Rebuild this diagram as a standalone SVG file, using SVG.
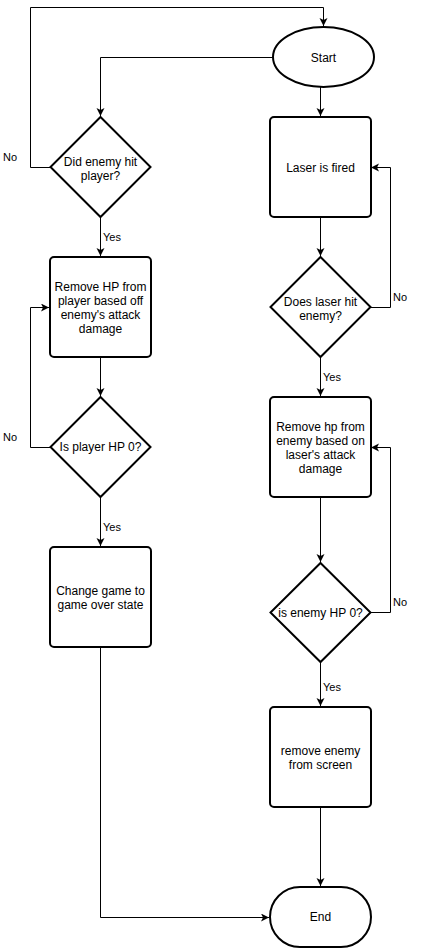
<svg xmlns="http://www.w3.org/2000/svg" width="421" height="949" viewBox="0 0 421 949">
<style>
.n{fill:#fff;stroke:#000;stroke-width:2}
.c{fill:none;stroke:#000;stroke-width:1}
.t{font-family:"Liberation Sans",Arial,sans-serif;font-size:12px;fill:#000;text-anchor:middle}
.l{font-family:"Liberation Sans",Arial,sans-serif;font-size:11px;fill:#000}
</style>
<defs>
<marker id="a" markerUnits="userSpaceOnUse" markerWidth="10" markerHeight="10" refX="8" refY="4" orient="auto">
<path d="M0,0 L8,4 L0,8 L2,4 z" fill="#000"/>
</marker>
</defs>
<rect width="421" height="949" fill="#fff"/>
<g id="connectors">
<path class="c" d="M273,57.5 H100.5 V116" marker-end="url(#a)"/>
<path class="c" d="M320.5,87 V116" marker-end="url(#a)"/>
<path class="c" d="M50,167.5 H30.5 V7.5 H323.5 V26" marker-end="url(#a)"/>
<path class="c" d="M100.5,217 V256" marker-end="url(#a)"/>
<path class="c" d="M100.5,357 V396" marker-end="url(#a)"/>
<path class="c" d="M50,447.5 H30.5 V307.5 H49" marker-end="url(#a)"/>
<path class="c" d="M100.5,497 V546" marker-end="url(#a)"/>
<path class="c" d="M100.5,647 V917.5 H269" marker-end="url(#a)"/>
<path class="c" d="M320.5,217 V256" marker-end="url(#a)"/>
<path class="c" d="M370,307.5 H390.5 V167.5 H371" marker-end="url(#a)"/>
<path class="c" d="M320.5,357 V396" marker-end="url(#a)"/>
<path class="c" d="M320.5,497 V562" marker-end="url(#a)"/>
<path class="c" d="M370,612.5 H390.5 V447.5 H371" marker-end="url(#a)"/>
<path class="c" d="M320.5,662 V706" marker-end="url(#a)"/>
<path class="c" d="M320.5,807 V886" marker-end="url(#a)"/>
<text class="l" x="3" y="161">No</text>
<text class="l" x="103" y="241">Yes</text>
<text class="l" x="3" y="441">No</text>
<text class="l" x="103" y="531">Yes</text>
<text class="l" x="393" y="301">No</text>
<text class="l" x="323" y="381">Yes</text>
<text class="l" x="393" y="606">No</text>
<text class="l" x="323" y="691">Yes</text>
</g>
<g id="start">
<ellipse class="n" cx="323.5" cy="57" rx="50.5" ry="30"/>
<text class="t" x="323.5" y="62">Start</text>
</g>
<g id="enemyHit">
<path class="n" d="M100.5,117 L150.5,167 L100.5,217 L50.5,167 Z"/>
<text class="t" x="100.5" y="166">Did enemy hit</text>
<text class="t" x="100.5" y="180">player?</text>
</g>
<g id="removeHpPlayer">
<rect class="n" x="50" y="257" width="101" height="100" rx="4"/>
<text class="t" x="100.5" y="291">Remove HP from</text>
<text class="t" x="100.5" y="305">player based off</text>
<text class="t" x="100.5" y="319">enemy's attack</text>
<text class="t" x="100.5" y="333">damage</text>
</g>
<g id="playerHp0">
<path class="n" d="M100.5,397 L150.5,447 L100.5,497 L50.5,447 Z"/>
<text class="t" x="100.5" y="451">Is player HP 0?</text>
</g>
<g id="gameOver">
<rect class="n" x="50" y="547" width="101" height="100" rx="4"/>
<text class="t" x="100.5" y="595">Change game to</text>
<text class="t" x="100.5" y="609">game over state</text>
</g>
<g id="laserFired">
<rect class="n" x="270" y="117" width="101" height="100" rx="4"/>
<text class="t" x="320.5" y="172">Laser is fired</text>
</g>
<g id="laserHit">
<path class="n" d="M320.5,257 L370.5,307 L320.5,357 L270.5,307 Z"/>
<text class="t" x="320.5" y="306">Does laser hit</text>
<text class="t" x="320.5" y="320">enemy?</text>
</g>
<g id="removeHpEnemy">
<rect class="n" x="270" y="397" width="101" height="100" rx="4"/>
<text class="t" x="320.5" y="431">Remove hp from</text>
<text class="t" x="320.5" y="445">enemy based on</text>
<text class="t" x="320.5" y="459">laser's attack</text>
<text class="t" x="320.5" y="473">damage</text>
</g>
<g id="enemyHp0">
<path class="n" d="M320.5,563 L370.5,612.5 L320.5,662 L270.5,612.5 Z"/>
<text class="t" x="320.5" y="617">is enemy HP 0?</text>
</g>
<g id="removeEnemy">
<rect class="n" x="270" y="707" width="101" height="100" rx="4"/>
<text class="t" x="320.5" y="755">remove enemy</text>
<text class="t" x="320.5" y="769">from screen</text>
</g>
<g id="end">
<rect class="n" x="270" y="887" width="101" height="60" rx="30"/>
<text class="t" x="320.5" y="921">End</text>
</g>
</svg>
